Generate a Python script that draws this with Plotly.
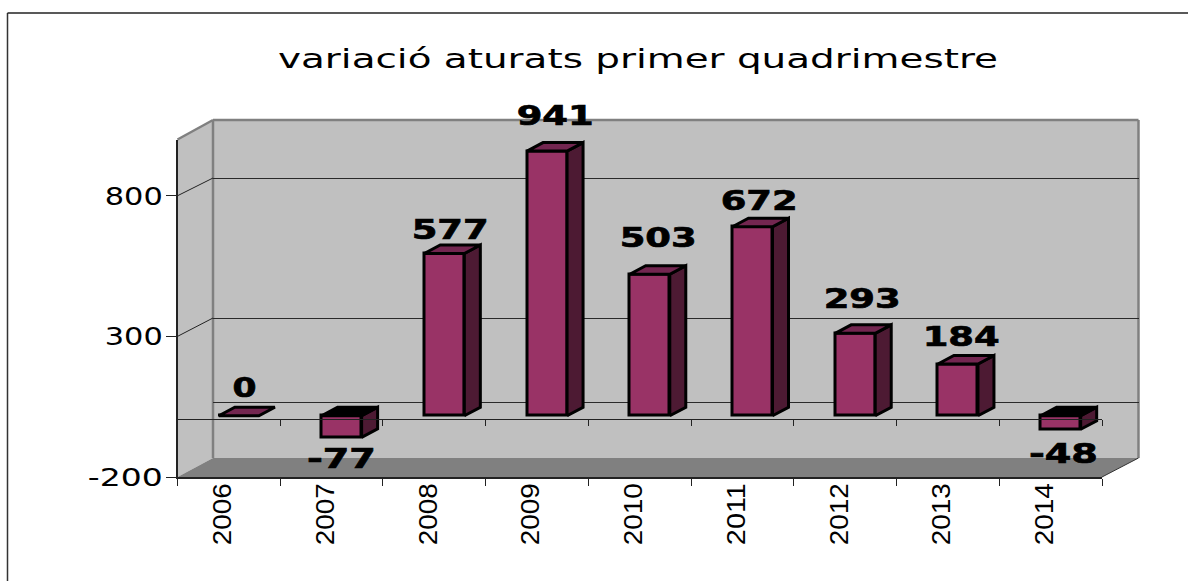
import json
import plotly.graph_objects as go

TITLE = "variació aturats primer quadrimestre"
YEARS = ["2006", "2007", "2008", "2009", "2010", "2011", "2012", "2013", "2014"]
VALUES = [0, -77, 577, 941, 503, 672, 293, 184, -48]
Y_TICKS = [-200, 300, 800]
Y_TICK_TEXT = ["-200", "300", "800"]
BACK_GRID = [0, 300, 800]

LABEL_XSHIFT = [6, 0, 6, 8, 8, 7, 7, 3, 3]
LABEL_YSHIFT = [28, -21, 24, 36, 37, 26, 35, 28, -24]

W, H = 1188, 581
FRONT_L, FRONT_R, FRONT_T, FRONT_B = 177.5, 1102, 139.5, 477
BACK_L, BACK_R, BACK_T, BACK_B = 213, 1138.5, 120, 458
BAR_DX, BAR_DY = 10, -5
ZERO_LINE_Y = 419
YMIN, YMAX = -200, 1000
BAR_HALF = 0.195
DEPTH_X = 16 / ((FRONT_R - FRONT_L) / 9)
DEPTH_Y = 8.5 / ((FRONT_B - FRONT_T) / (YMAX - YMIN))

# rendered widths in px of the horizontally stretched texts of the reference
TEXT_WIDTHS = {"800": 58, "300": 58, "-200": 75, "0": 24, "-77": 69, "-48": 69,
               "577": 77, "941": 77, "503": 77, "672": 77, "293": 77, "184": 77,
               TITLE: 720}
TEXT_WIDTHS.update({y: 62 for y in YEARS})


def px(x):
    return x / W


def py(y):
    return 1 - y / H


def front_y(v):
    return FRONT_B - (v - YMIN) * (FRONT_B - FRONT_T) / (YMAX - YMIN)


def back_y(v):
    return BACK_B - (v - YMIN) * (BACK_B - (BACK_T + 2)) / (YMAX - YMIN)


def poly(points, fill, line=None, width=0):
    path = "M" + " L".join(f"{px(a):.5f},{py(b):.5f}" for a, b in points) + " Z"
    return dict(type="path", path=path, xref="paper", yref="paper", layer="below",
                fillcolor=fill, line=dict(color=line or fill, width=width))


def seg(a, b, color, width):
    return dict(type="line", xref="paper", yref="paper", layer="below",
                x0=px(a[0]), y0=py(a[1]), x1=px(b[0]), y1=py(b[1]),
                line=dict(color=color, width=width))


GREY, EDGE, FLOOR = "#c0c0c0", "#808080", "#808080"
shapes = [
    seg((7.5, 13), (7.5, H), "#333333", 1.5),
    seg((7.5, 13), (W, 13), "#222222", 1.5),
    poly([(BACK_L, BACK_T), (BACK_R, BACK_T), (BACK_R, BACK_B), (BACK_L, BACK_B)], GREY),
    poly([(FRONT_L, FRONT_T), (BACK_L, BACK_T), (BACK_L, BACK_B), (FRONT_L, FRONT_B)], GREY),
    poly([(FRONT_L, FRONT_B), (FRONT_R, FRONT_B), (BACK_R, BACK_B), (BACK_L, BACK_B)], FLOOR),
    seg((BACK_L, BACK_T), (BACK_R, BACK_T), EDGE, 2.5),
    seg((BACK_L, BACK_T), (BACK_L, BACK_B), EDGE, 2.5),
    seg((BACK_R, BACK_T), (BACK_R, BACK_B), EDGE, 2.5),
    seg((FRONT_L, FRONT_T), (BACK_L, BACK_T), EDGE, 2.5),
    seg((FRONT_R, FRONT_B), (BACK_R, BACK_B), "#333333", 1),
]
for v in Y_TICKS[1:]:
    shapes.append(seg((FRONT_L, front_y(v)), (BACK_L, back_y(v)), "#222222", 1))

fig = go.Figure()

# back wall gridlines
fig.add_trace(go.Scatter(x=[0], y=[0], mode="markers", opacity=0, hoverinfo="skip",
                         showlegend=False, xaxis="x", yaxis="y"))

# bars
fig.add_trace(go.Bar(x=list(range(len(VALUES))), y=VALUES, width=2 * BAR_HALF,
                     marker=dict(color="#993366", line=dict(color="#000000", width=3)),
                     hoverinfo="skip", showlegend=False, xaxis="x2", yaxis="y2"))


def faces(kind):
    xs, ys = [], []
    for i, v in enumerate(VALUES):
        l, r = i - BAR_HALF, i + BAR_HALF
        if kind == "side":
            lo, hi = min(v, 0), max(v, 0)
            if lo == hi:
                continue
            xs += [r, r + DEPTH_X, r + DEPTH_X, r, r, None]
            ys += [lo, lo + DEPTH_Y, hi + DEPTH_Y, hi, lo, None]
        elif (kind == "top") == (v >= 0):
            hi = max(v, 0)
            xs += [l, l + DEPTH_X, r + DEPTH_X, r, l, None]
            ys += [hi, hi + DEPTH_Y, hi + DEPTH_Y, hi, hi, None]
    return xs, ys


for kind, color in (("side", "#4d1a33"), ("top", "#732650"), ("under", "#000000")):
    xs, ys = faces(kind)
    fig.add_trace(go.Scatter(x=xs, y=ys, mode="lines", fill="toself", fillcolor=color,
                             line=dict(color="#000000", width=3), hoverinfo="skip",
                             showlegend=False, xaxis="x2", yaxis="y2"))

# front axes
for xa, ya in (("x3", "y3"), ("x4", "y4")):
    fig.add_trace(go.Scatter(x=YEARS, y=[0] * len(YEARS), mode="markers", opacity=0,
                             hoverinfo="skip", showlegend=False, xaxis=xa, yaxis=ya))

annotations = [
    dict(x=i, y=v, xref="x2", yref="y2", text=str(v), showarrow=False,
         xshift=dx, yshift=dy, xanchor="center", yanchor="middle",
         font=dict(family="DejaVu Sans", size=27, color="#000000", weight="bold"))
    for i, (v, dx, dy) in enumerate(zip(VALUES, LABEL_XSHIFT, LABEL_YSHIFT))
]

hidden = dict(showticklabels=False, ticks="", showline=False, zeroline=False, showgrid=False,
              automargin=False)
rng = [-0.5, 8.5]
fig.update_layout(
    template="none",
    width=W, height=H, margin=dict(l=0, r=0, t=0, b=0, pad=0),
    paper_bgcolor="#ffffff", plot_bgcolor="rgba(0,0,0,0)",
    shapes=shapes, annotations=annotations, bargap=0, barmode="overlay",
    title=dict(text=TITLE, x=638 / W, y=py(59), xanchor="center", yanchor="middle",
               xref="paper", yref="paper", pad=dict(t=0, b=0, l=0, r=0),
               font=dict(family="DejaVu Sans", size=26, color="#000000")),
    xaxis=dict(domain=[px(BACK_L), px(BACK_R)], range=rng, anchor="y", **hidden),
    yaxis=dict(domain=[py(BACK_B), py(BACK_T + 2)], range=[YMIN, YMAX], anchor="x",
               showticklabels=False, ticks="", showline=False, zeroline=False, automargin=False,
               showgrid=True, tickvals=BACK_GRID, gridcolor="#2a2a2a", gridwidth=1),
    xaxis2=dict(domain=[px(FRONT_L + BAR_DX), px(FRONT_R + BAR_DX)], range=rng, anchor="y2", **hidden),
    yaxis2=dict(domain=[py(FRONT_B + BAR_DY), py(FRONT_T + BAR_DY)], range=[YMIN, YMAX],
                anchor="x2", **hidden),
    xaxis3=dict(domain=[px(FRONT_L), px(FRONT_R)], range=rng, anchor="y3", type="category",
                categoryorder="array", categoryarray=YEARS, tickson="boundaries",
                ticks="outside", ticklen=7, tickwidth=1, tickcolor="#222222", automargin=False,
                showline=True, linecolor="#222222", linewidth=1.5, showgrid=False,
                zeroline=False, tickangle=-90, ticklabelshift=-6, ticklabelstandoff=-6,
                tickfont=dict(family="Liberation Sans", size=26, color="#000000")),
    yaxis3=dict(domain=[py(FRONT_B), py(FRONT_T)], range=[YMIN, YMAX], anchor="x3",
                tickvals=Y_TICKS, ticktext=Y_TICK_TEXT, ticks="outside", ticklen=10, tickwidth=1,
                tickcolor="#222222", automargin=False,
                showline=True, linecolor="#222222", linewidth=1.5, showgrid=False,
                zeroline=False, ticklabelstandoff=-2,
                tickfont=dict(family="DejaVu Sans", size=25, color="#000000")),
    xaxis4=dict(domain=[px(FRONT_L), px(FRONT_R)], range=rng, anchor="y4", type="category",
                categoryorder="array", categoryarray=YEARS, tickson="boundaries",
                ticks="outside", ticklen=6, tickwidth=1, tickcolor="#222222", automargin=False,
                showline=True, linecolor="#222222", linewidth=1.2, showgrid=False,
                zeroline=False, showticklabels=False),
    yaxis4=dict(domain=[py(ZERO_LINE_Y), py(FRONT_T)], range=[0, YMAX], anchor="x4", **hidden),
)

post = """
document.body.style.margin='0';
document.body.style.overflow='hidden';
var widths = %s;
document.querySelectorAll('.gtitle, .annotation-text, .y3tick text, .x3tick text').forEach(function(t){
  var w = widths[t.textContent];
  if (w) { t.setAttribute('textLength', w); t.setAttribute('lengthAdjust', 'spacingAndGlyphs'); }
});
document.querySelectorAll('.annotation-text').forEach(function(t){
  t.style.stroke = '#000000'; t.style.strokeWidth = '0.7px';
});
""" % json.dumps(TEXT_WIDTHS)
fig.write_html("out.html", post_script=post, config={"displayModeBar": False})
